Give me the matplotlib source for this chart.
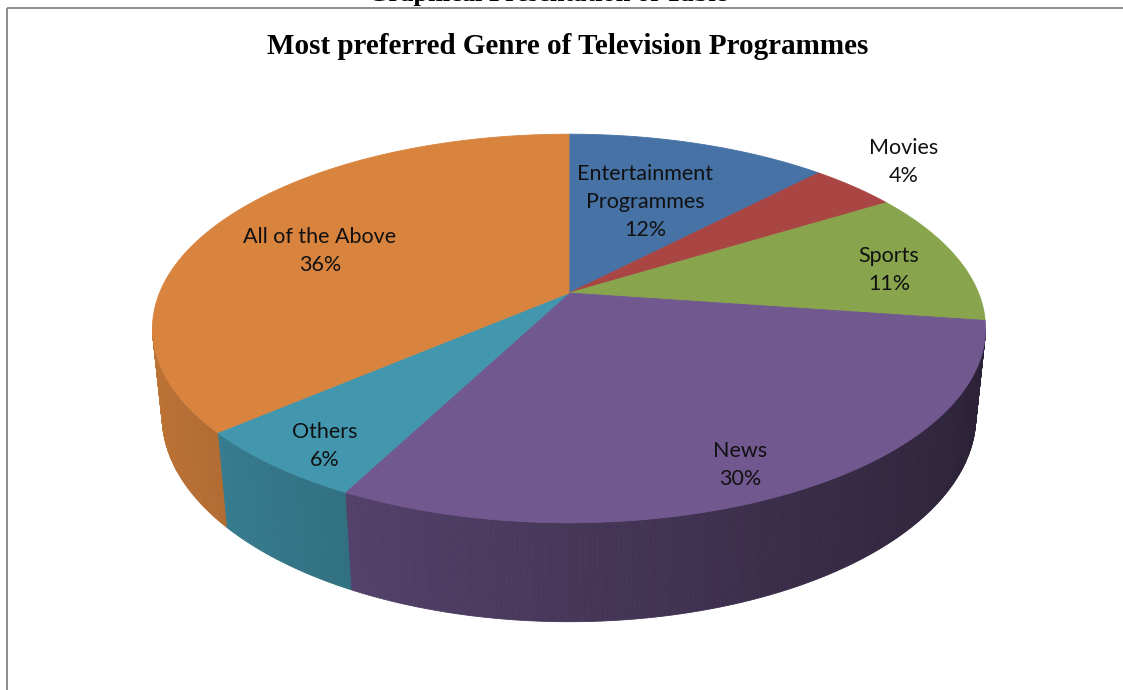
import numpy as np
import matplotlib
matplotlib.use("Agg")
import matplotlib.pyplot as plt
from matplotlib.patches import Polygon

# ---------------------------------------------------------------
# data
# ---------------------------------------------------------------
genres = ["Entertainment\nProgrammes", "Movies", "Sports", "News", "Others",
          "All of the Above"]
shares = [12, 4, 11, 30, 6, 36]
base_colors = ["#4F81BD", "#C0504D", "#9BBB59", "#8064A2", "#4BACC6", "#F79646"]

title = "Most preferred Genre of Television Programmes"
header = "Graphical Presentation of Table"

# label anchor points (pixels)
label_pos = [(645, 202), (904, 162), (889, 270), (740, 465), (325, 446), (320, 251)]

# ---------------------------------------------------------------
# 3d pie geometry (simple perspective camera)
# ---------------------------------------------------------------
W, H = 1123, 690
cx, cy = 569, 293          # pie centre on the top face
elev = np.radians(27.3)
cos_e, sin_e = np.cos(elev), np.sin(elev)
k = 5.479                  # camera distance / cos(elev)
D = k * cos_e
f = 409.5 * D
thick = 0.243


def project(theta, z):
    X, Y = np.cos(theta), np.sin(theta)
    depth = D + Y * cos_e - z * sin_e
    u = X * f / depth
    v = (Y * sin_e + z * cos_e) * f / depth
    return cx + u, cy - v


def shade(hex_color, factor):
    rgb = np.array(matplotlib.colors.to_rgb(hex_color))
    return tuple(np.clip(rgb * factor, 0, 1))


fig = plt.figure(figsize=(W / 100, H / 100), dpi=100)
ax = fig.add_axes([0, 0, 1, 1])
ax.set_xlim(0, W)
ax.set_ylim(H, 0)
ax.axis("off")

total = float(sum(shares))
bounds = 90 - 360 * np.concatenate([[0], np.cumsum(shares)]) / total

# side walls, drawn as thin strips so the lighting can vary around the rim
for i, col in enumerate(base_colors):
    t0, t1 = bounds[i], bounds[i + 1]
    n = max(2, int(abs(t0 - t1) * 2))
    ts = np.radians(np.linspace(t0, t1, n + 1))
    for a, b in zip(ts[:-1], ts[1:]):
        mid = 0.5 * (a + b)
        if np.sin(mid) >= -1 / k:
            continue
        pts = [project(a, 0), project(b, 0), project(b, -thick), project(a, -thick)]
        c = shade(col, 0.55 - 0.22 * np.cos(mid))
        ax.add_patch(Polygon(pts, closed=True, facecolor=c, edgecolor=c,
                             linewidth=0.6, zorder=1))

# top faces
for i, col in enumerate(base_colors):
    t0, t1 = bounds[i], bounds[i + 1]
    n = max(4, int(abs(t0 - t1) * 2))
    ts = np.radians(np.linspace(t0, t1, n + 1))
    pts = [(cx, cy)] + [project(t, 0) for t in ts]
    c = shade(col, 0.88)
    ax.add_patch(Polygon(pts, closed=True, facecolor=c, edgecolor=c,
                         linewidth=0.6, zorder=2))

# data labels
for name, val, (lx, ly) in zip(genres, shares, label_pos):
    ax.text(lx, ly, f"{name}\n{val}%", ha="center", va="center",
            fontsize=15.5, family="Lato", color="#111111",
            linespacing=1.5, zorder=5)

ax.text(568, 46, title, ha="center", va="center", fontsize=21,
        family="Liberation Serif", fontweight="bold", zorder=5)

# header line of the page, mostly cut off by the top edge
ax.text(548, 1, header, ha="center", va="baseline", fontsize=19,
        family="Liberation Serif", fontweight="bold", zorder=5, clip_on=True)

# chart frame
ax.plot([7, W], [8, 8], color="#8c8c8c", lw=1.4, solid_capstyle="butt", zorder=6)
ax.plot([7, 7], [8, H], color="#8c8c8c", lw=1.4, solid_capstyle="butt", zorder=6)

fig.savefig("out.png", dpi=100)
